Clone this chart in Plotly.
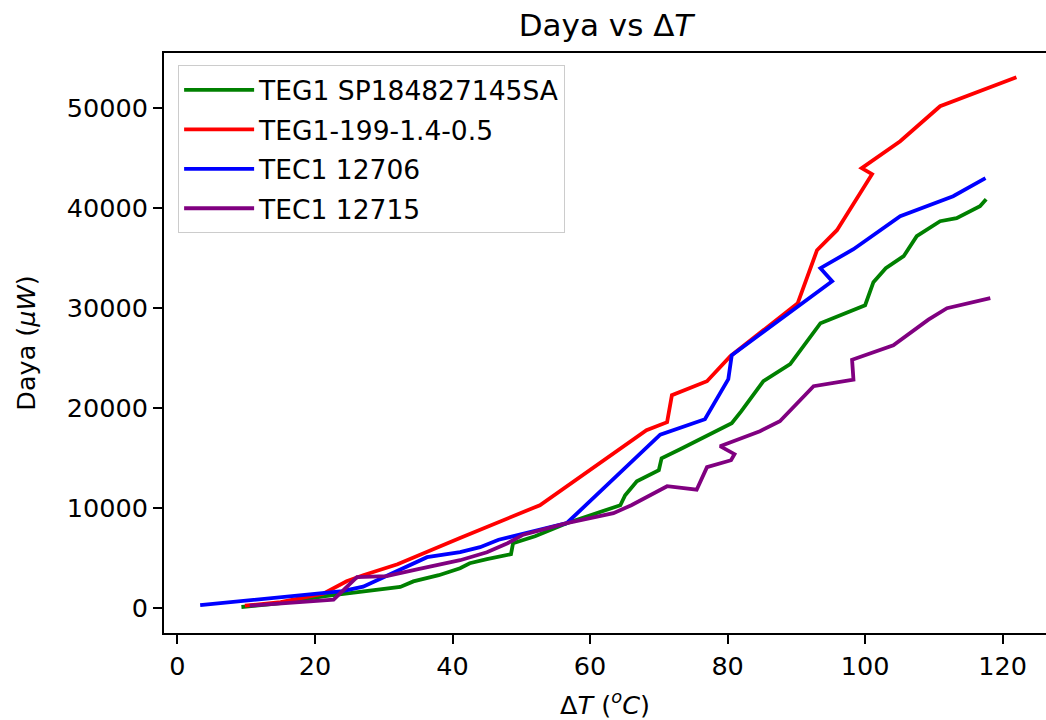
import plotly.graph_objects as go

# ---- data ----
green_name = "TEG1 SP184827145SA"
green_x = [9.3, 15, 21.2, 26, 32.4, 34.3, 38, 41.1, 42.5, 45, 48.5, 48.8, 52, 56.6, 60, 64.4, 65.1, 66.8,
           70.0, 70.4, 73.1, 77, 80.6, 82, 85.2, 89.1, 93.5, 100.0, 100.5, 101.2, 103, 105.6, 107.5,
           110.9, 113.3, 116.7, 117.6]
green_y = [120, 500, 1180, 1600, 2120, 2680, 3300, 4000, 4500, 4900, 5400, 6500, 7200, 8500, 9300, 10300,
           11300, 12700, 13800, 15000, 15900, 17200, 18500, 19700, 22700, 24400, 28500, 30300, 31200,
           32600, 34000, 35200, 37200, 38700, 39000, 40200, 40900]

red_name = "TEG1-199-1.4-0.5"
red_x = [9.8, 15, 21.2, 24.6, 27, 32, 41, 52.7, 68.2, 71.2, 71.9, 77.0, 80.4, 90.2, 93.0, 95.9, 101.0,
         99.5, 105.1, 110.9, 122.0]
red_y = [250, 600, 1450, 2700, 3300, 4400, 7000, 10300, 17800, 18600, 21300, 22700, 25200, 30500, 35800,
         37800, 43400, 44000, 46700, 50200, 53100]

blue_name = "TEC1 12706"
blue_x = [3.3, 21.2, 24, 27.0, 31.4, 36.3, 41.1, 44, 46.7, 52, 56.6, 70.2, 76.7, 80.1, 80.6, 95.2, 93.5,
          98.3, 105.1, 112.8, 117.5]
blue_y = [300, 1550, 1700, 2150, 3500, 5100, 5600, 6100, 6850, 7700, 8500, 17350, 18900, 22900, 25300,
          32700, 34000, 35900, 39200, 41200, 43000]

purple_name = "TEC1 12715"
purple_x = [10.5, 22.7, 26.1, 30.4, 35, 41.1, 45, 48, 50.3, 56.6, 63.4, 66, 71.2, 75.5, 77.0, 80.5, 81.0,
            78.9, 84.7, 87.6, 92.5, 98.3, 98.1, 104.1, 109.2, 111.9, 118.2]
purple_y = [250, 850, 3100, 3200, 3900, 4800, 5600, 6500, 7350, 8500, 9500, 10300, 12200, 11850, 14100,
            14800, 15400, 16200, 17700, 18700, 22200, 22850, 24850, 26300, 28850, 30000, 31000]

x_ticks = [0, 20, 40, 60, 80, 100, 120]
y_ticks = [0, 10000, 20000, 30000, 40000, 50000]

series = [
    (green_name, green_x, green_y, "green"),
    (red_name, red_x, red_y, "red"),
    (blue_name, blue_x, blue_y, "blue"),
    (purple_name, purple_x, purple_y, "purple"),
]

FONT = "DejaVu Sans"
W, H = 1046, 720

fig = go.Figure()
for i, (name, xs, ys, col) in enumerate(series):
    fig.add_trace(go.Scatter(x=xs, y=ys, mode="lines", name=name, legendgroup=f"g{i}",
                             line=dict(color=col, width=3.8)))

fig.update_layout(
    width=W, height=H,
    margin=dict(l=164, r=0, t=53, b=87, autoexpand=False),
    paper_bgcolor="white", plot_bgcolor="white",
    font=dict(family=FONT, size=25.5, color="black"),
    title=dict(text="Daya vs Δ<i>T</i>", x=606 / W, xanchor="center",
               y=1 - 25 / H, yanchor="middle", font=dict(size=31, family=FONT)),
    showlegend=True,
    legend=dict(x=0.016, y=0.979, xanchor="left", yanchor="top",
                bgcolor="rgba(255,255,255,0.8)", bordercolor="#cccccc", borderwidth=1,
                font=dict(size=26.5, family=FONT), itemwidth=70, tracegroupgap=2),
)
fig.update_xaxes(
    range=[-1.96, 126.3], tickvals=x_ticks, ticktext=[str(v) for v in x_ticks],
    showgrid=False, zeroline=False, showline=True, linecolor="black", linewidth=2,
    mirror=True, ticks="outside", ticklen=9, tickwidth=2, tickcolor="black", automargin=False,
    title=dict(text="Δ<i>T</i> (<sup><i>o</i></sup><i>C</i>)", standoff=17,
               font=dict(size=25.5, family=FONT)),
)
fig.update_yaxes(
    range=[-2480, 55520], tickvals=y_ticks, ticktext=[str(v) for v in y_ticks],
    showgrid=False, zeroline=False, showline=True, linecolor="black", linewidth=2,
    mirror=False, ticks="outside", ticklen=9, tickwidth=2, tickcolor="black", automargin=False,
    title=dict(text="Daya (<i>μW</i>)", standoff=24, font=dict(size=25.5, family=FONT)),
)

# remove the default 8px page margin so the 1046x720 figure fills the window exactly
fig.write_html("out.html",
               config={"displayModeBar": False},
               post_script="document.body.style.margin='0';document.body.style.overflow='hidden';")
